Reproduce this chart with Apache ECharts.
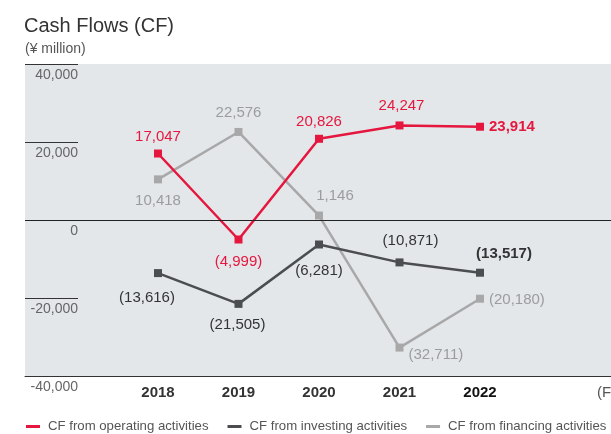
<!DOCTYPE html>
<html>
<head>
<meta charset="utf-8">
<script src="https://cdn.jsdelivr.net/npm/echarts@6/dist/echarts.min.js"></script>
<style>html,body{margin:0;padding:0;background:#fff;}#c{width:611px;height:434px;}</style>
</head>
<body>
<div id="c"></div>
<script>
var categories = ['2018', '2019', '2020', '2021', '2022'];
var operating = [17047, -4999, 20826, 24247, 23914];
var investing = [-13616, -21505, -6281, -10871, -13517];
var financing = [10418, 22576, 1146, -32711, -20180];
var yTicks = [-40000, -20000, 0, 20000, 40000];

var FONT = 'Liberation Sans, Arial, sans-serif';
function fmt(v) {
  var s = Math.abs(v).toString().replace(/\B(?=(\d{3})+(?!\d))/g, ',');
  return v < 0 ? '(' + s + ')' : s;
}
function buildData(vals, pos, lastBold) {
  return vals.map(function (v, i) {
    var p = pos[i];
    var lab = { position: p[0], offset: [p[1], p[2]] };
    if (lastBold && i === vals.length - 1) { lab.fontWeight = 'bold'; }
    return { value: [i, v], label: lab };
  });
}
var opPos = [['top',0,0],['bottom',0,6],['top',0,0],['top',2,-3],['right',0,0]];
var invPos = [['bottom',-11,8],['bottom',-1,4],['bottom',0,10],['top',11,-5],['top',24,-2]];
var finPos = [['bottom',0,5],['top',0,-3],['top',16,-3],['right',0,7],['right',0,1]];

var chart = echarts.init(document.getElementById('c'), null, { renderer: 'canvas' });
var xMin = -(158 - 25) / 80.5;
var xMax = xMin + 586 / 80.5;
function lineSeries(name, vals, color, labColor, pos, lastBold, extra) {
  var s = {
    name: name, type: 'line', data: buildData(vals, pos, lastBold),
    symbol: 'rect', symbolSize: 8, showSymbol: true,
    lineStyle: { color: color, width: 2.5 },
    itemStyle: { color: color },
    label: { show: true, color: labColor, fontSize: 15, fontFamily: FONT,
      formatter: function (p) { return fmt(p.value[1]); } },
    emphasis: { disabled: true },
    animation: false
  };
  if (extra) { for (var k in extra) s[k] = extra[k]; }
  return s;
}
var option = {
  animation: false,
  title: [
    { text: 'Cash Flows (CF)', left: 24, top: 16, padding: 0,
      textStyle: { fontSize: 20, fontWeight: 'normal', color: '#333', fontFamily: FONT } },
    { text: '(¥ million)', left: 25, top: 42, padding: 0,
      textStyle: { fontSize: 14, fontWeight: 'normal', color: '#555', fontFamily: FONT } }
  ],
  grid: { left: 25, right: 0, top: 64, bottom: 58, show: true, backgroundColor: '#e3e7ea', borderWidth: 0 },
  legend: {
    left: 26, top: 420, width: 800, padding: 0, itemWidth: 14, itemHeight: 3, itemGap: 19, icon: 'rect',
    data: ['CF from operating activities', 'CF from investing activities', 'CF from financing activities'],
    textStyle: { fontSize: 13.2, color: '#555', fontFamily: FONT, padding: [0, 0, 0, 3] },
    selectedMode: false
  },
  xAxis: {
    type: 'value', min: xMin, max: xMax,
    axisLine: { show: true, onZero: false, lineStyle: { color: '#333', width: 1 } },
    axisTick: { show: false },
    splitLine: { show: false },
    axisLabel: {
      customValues: categories.map(function (c, i) { return i; }),
      margin: 9, fontSize: 15, fontWeight: 'bold', color: '#333', fontFamily: FONT,
      formatter: function (v) {
        var i = Math.round(v);
        return i === categories.length - 1 ? '{b|' + categories[i] + '}' : categories[i];
      },
      rich: { b: { fontSize: 15, fontWeight: 900, color: '#111', fontFamily: FONT } }
    }
  },
  yAxis: {
    type: 'value', min: yTicks[0], max: yTicks[yTicks.length - 1], interval: 20000,
    axisLine: { show: false, onZero: false },
    axisTick: { show: true, inside: true, length: 53, lineStyle: { color: '#333', width: 1 } },
    splitLine: { show: false },
    axisLabel: {
      inside: true, margin: 53, align: 'right', verticalAlign: 'top', padding: [4, 0, 0, 0],
      fontSize: 14, color: '#666', fontFamily: FONT,
      formatter: function (v) { return v.toString().replace(/\B(?=(\d{3})+(?!\d))/g, ','); }
    }
  },
  graphic: [
    { type: 'text', left: 597, top: 385, style: { text: '(FY)', fill: '#555', font: '15px ' + FONT } }
  ],
  series: [
    lineSeries('CF from financing activities', financing, '#a8a8a8', '#9c9c9c', finPos, false),
    lineSeries('CF from investing activities', investing, '#4b4d51', '#333', invPos, true),
    lineSeries('CF from operating activities', operating, '#e5173f', '#e5173f', opPos, false, {
      markLine: { silent: true, symbol: 'none', label: { show: false },
        lineStyle: { color: '#222', width: 1, type: 'solid' },
        data: [{ yAxis: 0 }] }
    })
  ]
};
option.series[2].data[4].label.fontWeight = 'bold';
chart.setOption(option);
</script>
</body>
</html>
